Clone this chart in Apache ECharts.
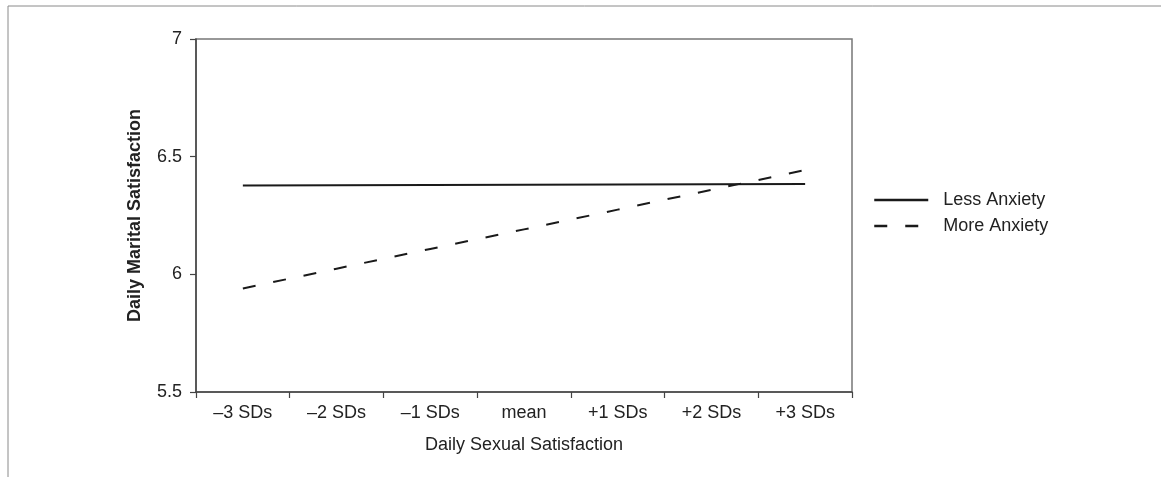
<!DOCTYPE html>
<html>
<head>
<meta charset="utf-8">
<script src="https://cdn.jsdelivr.net/npm/echarts@6/dist/echarts.min.js"></script>
<style>
html, body { margin: 0; padding: 0; background: #fff; }
#main { width: 1161px; height: 477px; }
</style>
</head>
<body>
<div id="main"></div>
<script>
// X轴类别
var categories = ['\u20133 SDs', '\u20132 SDs', '\u20131 SDs', 'mean', '+1 SDs', '+2 SDs', '+3 SDs'];
// 两条线数据
var lessAnxiety = [6.378, 6.379, 6.380, 6.381, 6.382, 6.383, 6.384];
var moreAnxiety = [5.940, 6.024, 6.108, 6.191, 6.275, 6.359, 6.443];
// Y轴范围
var yMin = 5.5, yMax = 7, yStep = 0.5;

var font = '"Liberation Sans", Arial, sans-serif';
var myChart = echarts.init(document.getElementById('main'));

myChart.setOption({
    animation: false,
    backgroundColor: '#fff',
    textStyle: { fontFamily: font },
    graphic: [
        // 外框 (上边和左边)
        { type: 'line', shape: { x1: 8, y1: 6, x2: 1161, y2: 6 }, style: { stroke: '#8a8a8a', lineWidth: 1 } },
        { type: 'line', shape: { x1: 8, y1: 6, x2: 8, y2: 477 }, style: { stroke: '#8a8a8a', lineWidth: 1 } }
    ],
    grid: {
        left: 196,
        top: 39,
        width: 656,
        height: 353,
        show: true,
        borderColor: '#777',
        borderWidth: 1.5
    },
    legend: {
        orient: 'vertical',
        left: 868,
        top: 186,
        itemWidth: 54,
        itemHeight: 14,
        itemGap: 8,
        itemStyle: { opacity: 0 },
        lineStyle: { width: 2.5, color: '#1a1a1a' },
        data: ['Less Anxiety', 'More Anxiety'],
        textStyle: { color: '#222', fontSize: 18, fontFamily: font, padding: [0, 0, 0, 10] }
    },
    xAxis: {
        type: 'category',
        data: categories,
        boundaryGap: true,
        name: 'Daily Sexual Satisfaction',
        nameLocation: 'middle',
        nameGap: 44,
        nameTextStyle: { color: '#222', fontSize: 18 },
        axisLine: { lineStyle: { color: '#444', width: 1.5 } },
        axisTick: { show: true, length: 6, lineStyle: { color: '#444', width: 1.2 } },
        axisLabel: { color: '#222', fontSize: 18, margin: 12 },
        splitLine: { show: false }
    },
    yAxis: {
        type: 'value',
        min: yMin,
        max: yMax,
        interval: yStep,
        name: 'Daily Marital Satisfaction',
        nameLocation: 'middle',
        nameGap: 52,
        nameTextStyle: { color: '#222', fontSize: 18, fontWeight: 'bold' },
        axisLine: { show: true, lineStyle: { color: '#444', width: 1.5 } },
        axisTick: { show: true, length: 6, lineStyle: { color: '#444', width: 1.2 } },
        axisLabel: { color: '#222', fontSize: 18, margin: 14 },
        splitLine: { show: false }
    },
    series: [{
        name: 'Less Anxiety',
        type: 'line',
        symbol: 'none',
        data: lessAnxiety,
        lineStyle: { color: '#1a1a1a', width: 2, type: 'solid' },
        itemStyle: { color: '#1a1a1a' }
    }, {
        name: 'More Anxiety',
        type: 'line',
        symbol: 'none',
        data: moreAnxiety,
        lineStyle: { color: '#1a1a1a', width: 2, type: [13, 18] },
        itemStyle: { color: '#1a1a1a' }
    }]
});
</script>
</body>
</html>
